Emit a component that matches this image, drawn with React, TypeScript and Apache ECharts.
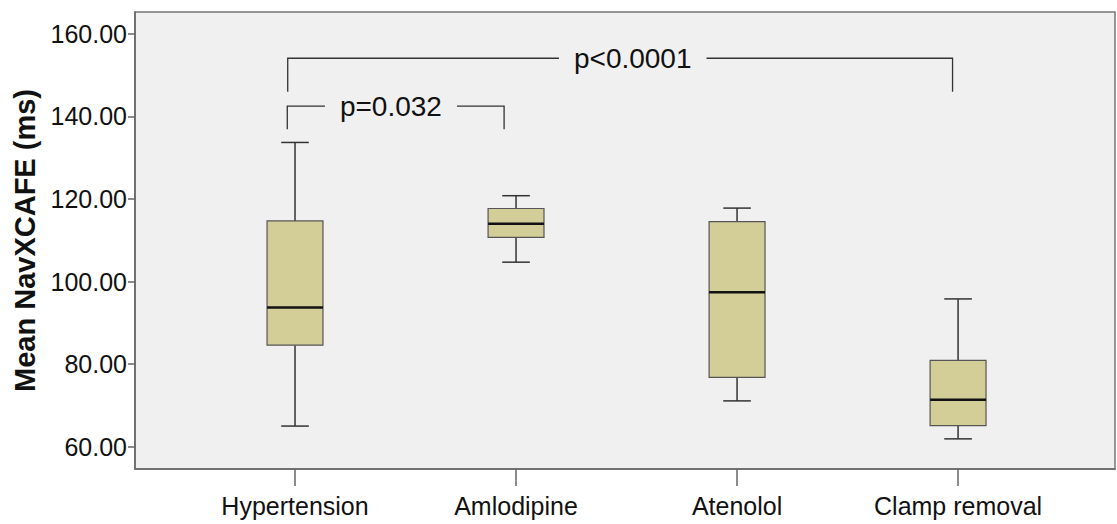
import React, { useEffect, useRef } from 'react';
import * as echarts from 'echarts';

const categories = ['Hypertension', 'Amlodipine', 'Atenolol', 'Clamp removal'];
const lowWhisker = [65.0, 104.7, 71.1, 61.9];
const q1 = [84.6, 110.7, 76.8, 65.1];
const median = [93.7, 114.0, 97.4, 71.4];
const q3 = [114.7, 117.7, 114.5, 80.9];
const highWhisker = [133.7, 120.8, 117.8, 95.8];
const yTicks = [60, 80, 100, 120, 140, 160];
const yAxisName = 'Mean NavXCAFE (ms)';

const bracketLabels = ['p=0.032', 'p<0.0001'];
const bracketFrom = [-0.035, -0.033];
const bracketTo = [0.946, 2.975];
const bracketTop = [142.5, 154.1];
const bracketFoot = [136.9, 146.0];
const bracketLabelX = [0.434, 1.528];

const FONT = '"Liberation Sans", Arial, sans-serif';

export default function App() {
  const ref = useRef<HTMLDivElement>(null);
  useEffect(() => {
    if (!ref.current) return;
    const chart = echarts.init(ref.current, null, { renderer: 'svg' });
    const boxData = categories.map((_, i) => [i, lowWhisker[i], q1[i], median[i], q3[i], highWhisker[i]]);
    const bracketData = bracketLabels.map((_, i) => [bracketFrom[i], bracketTo[i], bracketTop[i], bracketFoot[i], bracketLabelX[i]]);
    chart.setOption({
      animation: false,
      backgroundColor: '#ffffff',
      grid: {
        left: 135, right: 2, top: 12, bottom: 55,
        show: true, backgroundColor: '#f0f0f0', borderColor: '#777', borderWidth: 1.5,
      },
      xAxis: {
        type: 'value',
        min: -0.724,
        max: 3.71,
        splitLine: { show: false },
        axisLine: { show: true, onZero: false, lineStyle: { color: '#666', width: 1.5 } },
        axisTick: { show: true, length: 17, lineStyle: { color: '#666', width: 1.5 }, customValues: [0, 1, 2, 3] },
        axisLabel: {
          customValues: [0, 1, 2, 3],
          formatter: (v: number) => categories[Math.round(v)] ?? '',
          fontSize: 25, color: '#111', fontFamily: FONT, margin: 24,
        },
      },
      yAxis: {
        type: 'value',
        min: 54.6,
        max: 165.3,
        name: yAxisName,
        nameLocation: 'middle',
        nameRotate: 90,
        nameGap: 93,
        nameTextStyle: { fontSize: 29, fontWeight: 'bold', color: '#111', fontFamily: FONT },
        splitLine: { show: false },
        axisLine: { show: true, onZero: false, lineStyle: { color: '#666', width: 1.5 } },
        axisTick: { show: true, length: 7, lineStyle: { color: '#666', width: 1.5 }, customValues: yTicks },
        axisLabel: {
          customValues: yTicks,
          formatter: (v: number) => v.toFixed(2),
          fontSize: 25, color: '#111', fontFamily: FONT, margin: 8,
        },
      },
      series: [
        {
          type: 'custom',
          data: boxData,
          encode: { x: 0, y: [1, 2, 3, 4, 5] },
          renderItem: (params: any, api: any) => {
            const x = api.value(0);
            const band = api.size([1, 0])[0];
            const boxW = band * 0.253;
            const capW = band * 0.125;
            const lo = api.coord([x, api.value(1)]);
            const b1 = api.coord([x, api.value(2)]);
            const md = api.coord([x, api.value(3)]);
            const b3 = api.coord([x, api.value(4)]);
            const hi = api.coord([x, api.value(5)]);
            const cx = lo[0];
            const wStyle = { stroke: '#333', lineWidth: 1.5 };
            return {
              type: 'group',
              children: [
                { type: 'line', shape: { x1: cx, y1: hi[1], x2: cx, y2: b3[1] }, style: wStyle },
                { type: 'line', shape: { x1: cx, y1: b1[1], x2: cx, y2: lo[1] }, style: wStyle },
                { type: 'line', shape: { x1: cx - capW / 2, y1: hi[1], x2: cx + capW / 2, y2: hi[1] }, style: wStyle },
                { type: 'line', shape: { x1: cx - capW / 2, y1: lo[1], x2: cx + capW / 2, y2: lo[1] }, style: wStyle },
                {
                  type: 'rect',
                  shape: { x: cx - boxW / 2, y: b3[1], width: boxW, height: b1[1] - b3[1] },
                  style: { fill: '#d3ce97', stroke: '#555', lineWidth: 1.2 },
                },
                { type: 'line', shape: { x1: cx - boxW / 2, y1: md[1], x2: cx + boxW / 2, y2: md[1] }, style: { stroke: '#111', lineWidth: 2.5 } },
              ],
            };
          },
        },
        {
          type: 'custom',
          data: bracketData,
          encode: { x: [0, 1, 4], y: [2, 3] },
          renderItem: (params: any, api: any) => {
            const x0 = api.value(0);
            const x1 = api.value(1);
            const top = api.value(2);
            const foot = api.value(3);
            const lx = api.value(4);
            const pA = api.coord([x0, foot]);
            const pB = api.coord([x0, top]);
            const pC = api.coord([x1, top]);
            const pD = api.coord([x1, foot]);
            const pL = api.coord([lx, top]);
            return {
              type: 'group',
              children: [
                {
                  type: 'polyline',
                  shape: { points: [pA, pB, pC, pD] },
                  style: { stroke: '#333', lineWidth: 1.3, fill: null },
                },
                {
                  type: 'text',
                  x: pL[0], y: pL[1],
                  style: {
                    text: bracketLabels[params.dataIndex],
                    fontSize: 28, fill: '#111', fontFamily: FONT,
                    align: 'center', verticalAlign: 'middle',
                    backgroundColor: '#f0f0f0', padding: [2, 15],
                  },
                },
              ],
            };
          },
        },
      ],
    });
    return () => chart.dispose();
  }, []);
  return <div ref={ref} style={{ position: 'absolute', left: 0, top: 0, width: 1117, height: 524 }} />;
}
